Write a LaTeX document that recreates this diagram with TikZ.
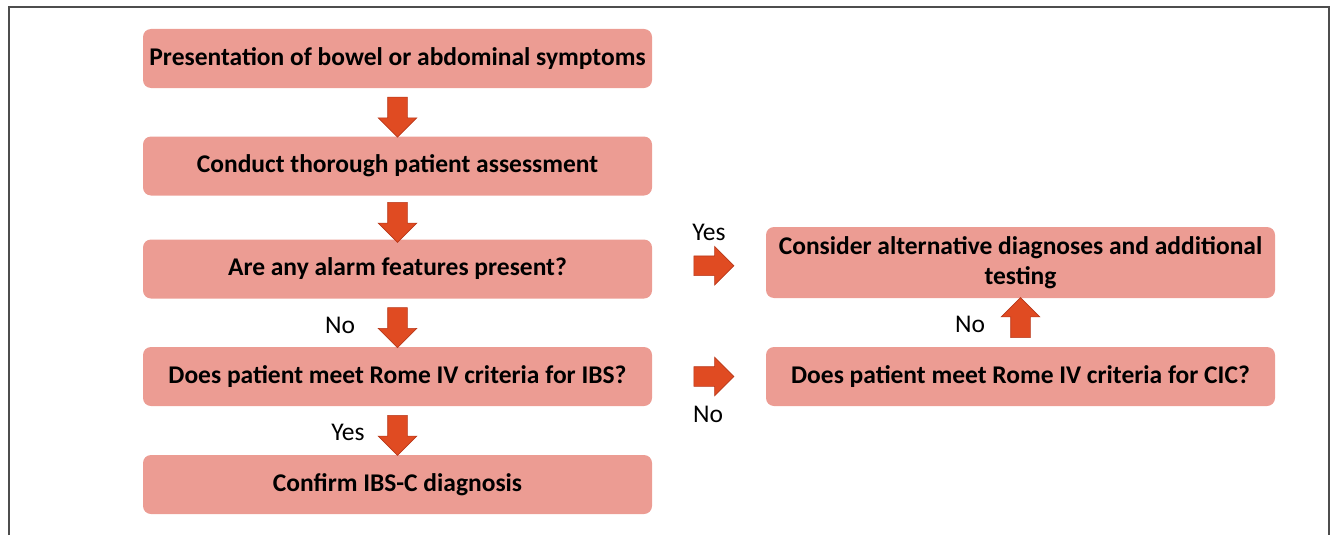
\documentclass[tikz,border=0pt]{standalone}
\usepackage{fontspec}
\setmainfont{Carlito}
\usetikzlibrary{shapes.arrows, positioning}
\definecolor{boxpink}{HTML}{EC9C93}
\definecolor{arrowred}{HTML}{E04B22}
\definecolor{arrowedge}{HTML}{B8381A}
\definecolor{framegray}{HTML}{4D4D4D}
\tikzset{
	stepbox/.style={shape=rectangle, fill=boxpink, rounded corners=8pt, minimum width=509pt, minimum height=59pt, align=center, inner sep=0pt, font=\fontsize{25.5}{30}\selectfont\bfseries},
	blockarrow/.style={single arrow, fill=arrowred, draw=arrowedge, line width=0.6pt, inner xsep=0pt, inner ysep=9.5pt, minimum height=40pt, single arrow head extend=9.5pt},
	answer/.style={inner sep=0pt, font=\fontsize{25.5}{30}\selectfont},
}
\begin{document}
\begin{tikzpicture}[x=1pt, y=-1pt]
	\useasboundingbox (0,0) rectangle (1332,535);
	% Frame:
	\draw[framegray, line width=2pt] (8.5,535) |- (1329,7.5) -- (1329,535);
	% Boxes, left column:
	\node[stepbox] (pres) at (397.5,58.5) {Presentation of bowel or abdominal symptoms};
	\node[stepbox] (assess) at (397.5,166) {Conduct thorough patient assessment};
	\node[stepbox] (alarm) at (397.5,269) {Are any alarm features present?};
	\node[stepbox] (ibs) at (397.5,376.5) {Does patient meet Rome IV criteria for IBS?};
	\node[stepbox] (confirm) at (397.5,484.5) {Confirm IBS-C diagnosis};
	% Boxes, right column:
	\node[stepbox, minimum height=71pt] (alt) at (1020.5,262.5) {Consider alternative diagnoses and additional\\testing};
	\node[stepbox] (cic) at (1020.5,376.5) {Does patient meet Rome IV criteria for CIC?};
	% Arrows:
	\path (pres.south) -- node[blockarrow, rotate=-90] (a1) {} (assess.north);
	\path (assess.south) -- node[blockarrow, rotate=-90] (a2) {} (alarm.north);
	\path (alarm.south) -- node[blockarrow, rotate=-90] (a3) {} (ibs.north);
	\path (ibs.south) -- node[blockarrow, rotate=-90] (a4) {} (confirm.north);
	\path (alarm.east) -- node[blockarrow] (a5) {} (alt.west);
	\path (ibs.east) -- node[blockarrow] (a6) {} (cic.west);
	\path (cic.north) -- node[blockarrow, rotate=90] (a7) {} (alt.south);
	% Answers:
	\node[answer] (yes1) at (709,232) {Yes};
	\node[answer] (no1) at (340,325) {No};
	\node[answer] (yes2) at (348,432) {Yes};
	\node[answer] (no2) at (708,414) {No};
	\node[answer] (no3) at (970,324) {No};
\end{tikzpicture}
\end{document}
